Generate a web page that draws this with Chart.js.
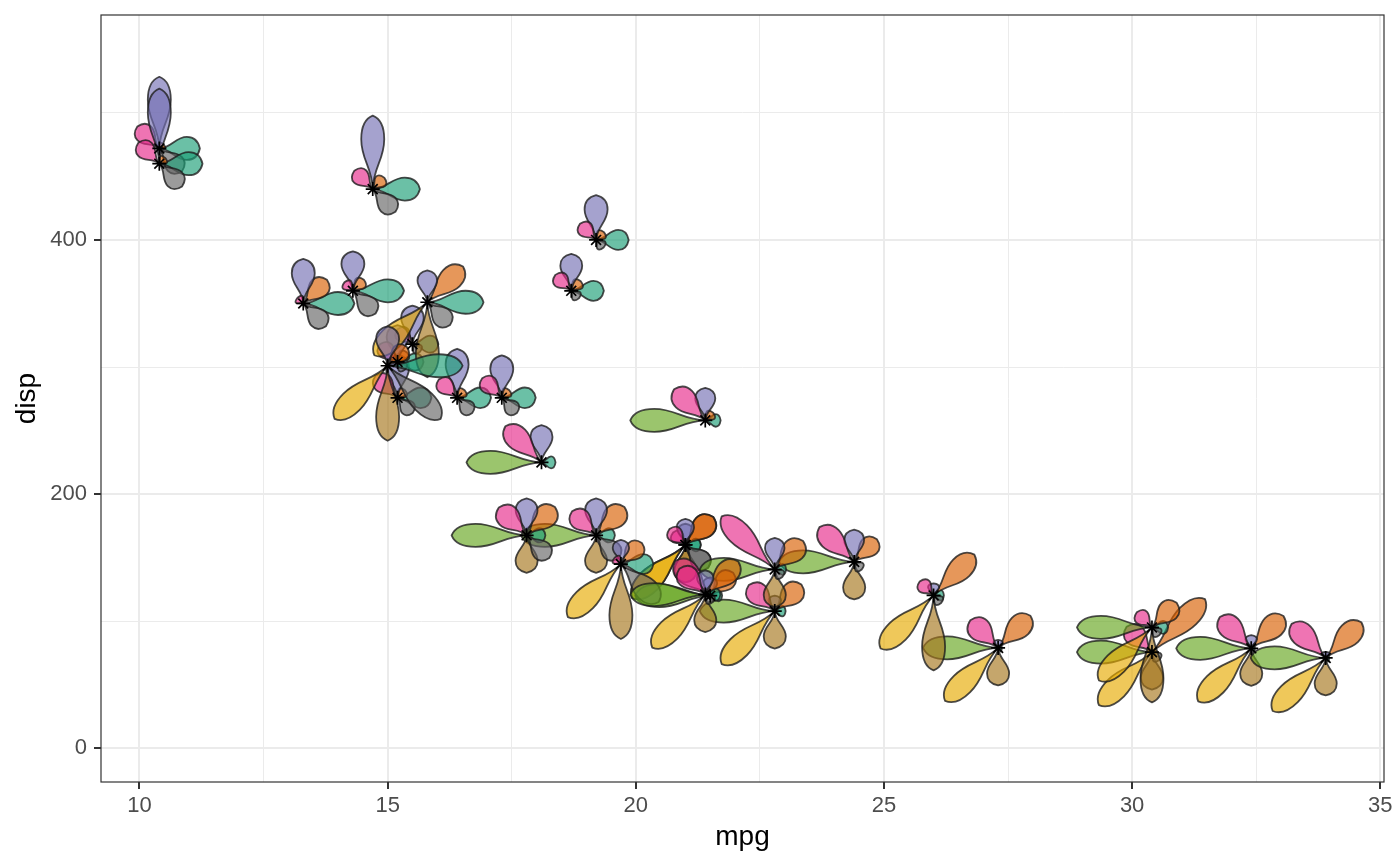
<!DOCTYPE html>
<html>
<head>
<meta charset="utf-8">
<script src="https://cdn.jsdelivr.net/npm/chart.js@4"></script>
<style>
  html, body { margin: 0; padding: 0; background: #fff; }
  #wrap { width: 1400px; height: 866px; }
</style>
</head>
<body>
<div id="wrap"><canvas id="myChart" width="1400" height="866"></canvas></div>
<script>
// mtcars: one entry per car
const cars = ['Mazda RX4', 'Mazda RX4 Wag', 'Datsun 710', 'Hornet 4 Drive', 'Hornet Sportabout', 'Valiant',
  'Duster 360', 'Merc 240D', 'Merc 230', 'Merc 280', 'Merc 280C', 'Merc 450SE', 'Merc 450SL', 'Merc 450SLC',
  'Cadillac Fleetwood', 'Lincoln Continental', 'Chrysler Imperial', 'Fiat 128', 'Honda Civic', 'Toyota Corolla',
  'Toyota Corona', 'Dodge Challenger', 'AMC Javelin', 'Camaro Z28', 'Pontiac Firebird', 'Fiat X1-9',
  'Porsche 914-2', 'Lotus Europa', 'Ford Pantera L', 'Ferrari Dino', 'Maserati Bora', 'Volvo 142E'];
const mpg  = [21.0, 21.0, 22.8, 21.4, 18.7, 18.1, 14.3, 24.4, 22.8, 19.2, 17.8, 16.4, 17.3, 15.2, 10.4, 10.4,
  14.7, 32.4, 30.4, 33.9, 21.5, 15.5, 15.2, 13.3, 19.2, 27.3, 26.0, 30.4, 15.8, 19.7, 15.0, 21.4];
const disp = [160, 160, 108, 258, 360, 225, 360, 146.7, 140.8, 167.6, 167.6, 275.8, 275.8, 275.8, 472, 460,
  440, 78.7, 75.7, 71.1, 120.1, 318, 304, 350, 400, 79, 120.3, 95.1, 351, 145, 301, 121];
const hp   = [110, 110, 93, 110, 175, 105, 245, 62, 95, 123, 123, 180, 180, 180, 205, 215,
  230, 66, 52, 65, 97, 150, 150, 245, 175, 66, 91, 113, 264, 175, 335, 109];
const drat = [3.90, 3.90, 3.85, 3.08, 3.15, 2.76, 3.21, 3.69, 3.92, 3.92, 3.92, 3.07, 3.07, 3.07, 2.93, 3.00,
  3.23, 4.08, 4.93, 4.22, 3.70, 2.76, 3.15, 3.73, 3.08, 4.08, 4.43, 3.77, 4.22, 3.62, 3.54, 4.11];
const wt   = [2.620, 2.875, 2.320, 3.215, 3.440, 3.460, 3.570, 3.190, 3.150, 3.440, 3.440, 4.070, 3.730, 3.780,
  5.250, 5.424, 5.345, 2.200, 1.615, 1.835, 2.465, 3.520, 3.435, 3.840, 3.845, 1.935, 2.140, 1.513, 3.170,
  2.770, 3.570, 2.780];
const qsec = [16.46, 17.02, 18.61, 19.44, 17.02, 20.22, 15.84, 20.00, 22.90, 18.30, 18.90, 17.40, 17.60, 18.00,
  17.98, 17.82, 17.42, 19.47, 18.52, 19.90, 20.01, 16.87, 17.30, 15.41, 17.05, 18.90, 16.70, 16.90, 14.50,
  15.50, 14.60, 18.60];
const vs   = [0, 0, 1, 1, 0, 1, 0, 1, 1, 1, 1, 0, 0, 0, 0, 0, 0, 1, 1, 1, 1, 0, 0, 0, 0, 1, 0, 1, 0, 0, 0, 1];
const am   = [1, 1, 1, 0, 0, 0, 0, 0, 0, 0, 0, 0, 0, 0, 0, 0, 0, 1, 1, 1, 0, 0, 0, 0, 0, 1, 1, 1, 1, 1, 1, 1];
const gear = [4, 4, 4, 3, 3, 3, 3, 4, 4, 4, 4, 3, 3, 3, 3, 3, 3, 4, 4, 4, 3, 3, 3, 3, 3, 4, 5, 5, 5, 5, 5, 4];
const carb = [4, 4, 1, 1, 2, 1, 4, 2, 2, 4, 4, 3, 3, 3, 4, 4, 4, 1, 2, 1, 1, 2, 2, 4, 2, 1, 2, 2, 4, 6, 8, 2];

// petals, counter-clockwise from the right
const petalVars = [hp, drat, wt, qsec, vs, am, gear, carb];
const petalColors = ['rgba(27,158,119,0.65)', 'rgba(217,95,2,0.65)', 'rgba(117,112,179,0.65)',
  'rgba(231,41,138,0.65)', 'rgba(102,166,30,0.65)', 'rgba(230,171,2,0.65)', 'rgba(166,118,29,0.65)',
  'rgba(102,102,102,0.65)'];

const xTicks = [10, 12.5, 15, 17.5, 20, 22.5, 25, 27.5, 30, 32.5, 35];
const yTicks = [0, 100, 200, 300, 400, 500];
const xMajor = [10, 15, 20, 25, 30, 35];
const yMajor = [0, 200, 400];

const PETAL_MAX = 75; // px for a scaled value of 1
const FONT = 'Liberation Sans, Arial, sans-serif';

// teardrop: thin near the centre, round bulb towards the end, small point at the tip
function petalPath(ctx, L, w) {
  ctx.beginPath();
  ctx.moveTo(0, 0);
  ctx.bezierCurveTo(0.3 * L, 0.03 * w, 0.4 * L, 0.5 * w, 0.68 * L, 0.5 * w);
  ctx.bezierCurveTo(0.88 * L, 0.5 * w, 0.97 * L, 0.24 * w, L, 0);
  ctx.bezierCurveTo(0.97 * L, -0.24 * w, 0.88 * L, -0.5 * w, 0.68 * L, -0.5 * w);
  ctx.bezierCurveTo(0.4 * L, -0.5 * w, 0.3 * L, -0.03 * w, 0, 0);
  ctx.closePath();
}

const flowerPlugin = {
  id: 'flowers',
  beforeDatasetsDraw(chart) {
    const { ctx, chartArea, scales } = chart;
    const ranges = petalVars.map(v => [Math.min(...v), Math.max(...v)]);
    ctx.save();
    ctx.beginPath();
    ctx.rect(chartArea.left, chartArea.top, chartArea.right - chartArea.left, chartArea.bottom - chartArea.top);
    ctx.clip();
    ctx.lineWidth = 1.8;
    ctx.strokeStyle = 'rgba(30,30,30,0.8)';
    ctx.lineJoin = 'round';
    for (let i = 0; i < mpg.length; i++) {
      const cx = scales.x.getPixelForValue(mpg[i]);
      const cy = scales.y.getPixelForValue(disp[i]);
      petalVars.forEach((v, j) => {
        const s = (v[i] - ranges[j][0]) / (ranges[j][1] - ranges[j][0]);
        const L = s * PETAL_MAX;
        if (L < 0.5) return;
        const w = Math.min(23, 6 + 0.43 * L);
        ctx.save();
        ctx.translate(cx, cy);
        ctx.rotate(-j * Math.PI / 4);
        petalPath(ctx, L, w);
        ctx.fillStyle = petalColors[j];
        ctx.fill();
        ctx.stroke();
        ctx.restore();
      });
    }
    ctx.restore();
  },
  afterDraw(chart) {
    const { ctx, chartArea } = chart;
    ctx.save();
    ctx.strokeStyle = '#333333';
    ctx.lineWidth = 1.2;
    ctx.strokeRect(chartArea.left, chartArea.top, chartArea.right - chartArea.left, chartArea.bottom - chartArea.top);
    ctx.restore();
  }
};

const ctx = document.getElementById('myChart').getContext('2d');
new Chart(ctx, {
  type: 'scatter',
  data: {
    datasets: [{
      label: 'cars',
      data: mpg.map((m, i) => ({ x: m, y: disp[i] })),
      pointStyle: 'star',
      pointRadius: 7,
      borderColor: '#000000',
      backgroundColor: '#000000',
      borderWidth: 1.7
    }]
  },
  options: {
    responsive: false,
    animation: false,
    events: [],
    layout: { padding: { top: 15, right: 16, left: 0, bottom: 0 } },
    plugins: { legend: { display: false }, tooltip: { enabled: false } },
    scales: {
      x: {
        type: 'linear',
        min: 9.225,
        max: 35.075,
        afterBuildTicks: s => { s.ticks = xTicks.map(v => ({ value: v })); },
        afterFit: s => { s.height = 84; s.paddingLeft = 0; s.paddingRight = 0; },
        border: { display: false },
        grid: {
          color: '#EBEBEB',
          lineWidth: c => xMajor.includes(c.tick.value) ? 2 : 1,
          tickLength: 7,
          tickWidth: 2,
          tickColor: c => xMajor.includes(c.tick.value) ? '#333333' : 'rgba(0,0,0,0)'
        },
        ticks: {
          autoSkip: false,
          maxRotation: 0,
          padding: 4,
          color: '#4D4D4D',
          font: { family: FONT, size: 22 },
          callback: v => xMajor.includes(v) ? String(v) : ''
        },
        title: {
          display: true,
          text: 'mpg',
          color: '#000000',
          padding: { top: 0, bottom: 12 },
          font: { family: FONT, size: 28 }
        }
      },
      y: {
        type: 'linear',
        min: -26.5,
        max: 577,
        afterBuildTicks: s => { s.ticks = yTicks.map(v => ({ value: v })); },
        afterFit: s => { s.width = 101; s.paddingTop = 0; s.paddingBottom = 0; },
        border: { display: false },
        grid: {
          color: '#EBEBEB',
          lineWidth: c => yMajor.includes(c.tick.value) ? 2 : 1,
          tickLength: 7,
          tickWidth: 2,
          tickColor: c => yMajor.includes(c.tick.value) ? '#333333' : 'rgba(0,0,0,0)'
        },
        ticks: {
          autoSkip: false,
          padding: 7,
          color: '#4D4D4D',
          font: { family: FONT, size: 22 },
          callback: v => yMajor.includes(v) ? String(v) : ''
        },
        title: {
          display: true,
          text: 'disp',
          color: '#000000',
          padding: { top: 10, bottom: 0 },
          font: { family: FONT, size: 28 }
        }
      }
    }
  },
  plugins: [flowerPlugin]
});
</script>
</body>
</html>
